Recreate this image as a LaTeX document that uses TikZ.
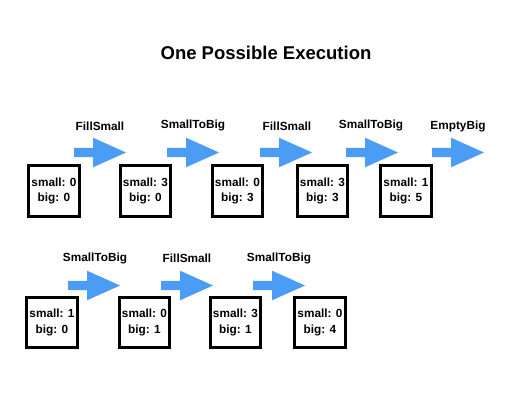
\documentclass[tikz,border=0pt]{standalone}
\usepackage{fontspec}
\setmainfont{Liberation Sans}
\definecolor{arrowblue}{RGB}{74,156,245}
\tikzset{
  state/.style={draw=black, line width=3.2pt, minimum size=50.5pt, inner sep=0pt, align=center,
    font=\bfseries\fontsize{11.8}{15.5}\selectfont},
  act/.style={font=\bfseries\fontsize{11.8}{14}\selectfont, inner sep=0pt},
  bigarr/.pic={\fill[arrowblue] (0,-4.6) -- (19,-4.6) -- (19,-14.8) -- (52,0) -- (19,14.8) -- (19,4.6) -- (0,4.6) -- cycle;}
}
\begin{document}
\begin{tikzpicture}[x=1pt,y=-1pt]
\useasboundingbox (0,0) rectangle (532,400);
\node[font=\bfseries\fontsize{18.5}{22}\selectfont] (title) at (266,53) {One Possible Execution};
% top row
\node[state] (s1) at (54,191) {small: 0\\big: 0};
\node[state] (s2) at (145.5,191) {small: 3\\big: 0};
\node[state] (s3) at (237.5,191) {small: 0\\big: 3};
\node[state] (s4) at (322.5,191) {small: 3\\big: 3};
\node[state] (s5) at (406,191) {small: 1\\big: 5};
\pic at (74,152.5) {bigarr};
\pic at (167,152.5) {bigarr};
\pic at (260,152.5) {bigarr};
\pic at (346,152.5) {bigarr};
\pic at (432,152.5) {bigarr};
\node[act] (a1) at (100,126) {FillSmall};
\node[act] (a2) at (193,125) {SmallToBig};
\node[act] (a3) at (287,126) {FillSmall};
\node[act] (a4) at (371,125) {SmallToBig};
\node[act] (a5) at (458,126) {EmptyBig};
% bottom row
\node[state] (t1) at (52,322.5) {small: 1\\big: 0};
\node[state] (t2) at (144.5,322.5) {small: 0\\big: 1};
\node[state] (t3) at (235.5,322.5) {small: 3\\big: 1};
\node[state] (t4) at (320,322.5) {small: 0\\big: 4};
\pic at (68,285.5) {bigarr};
\pic at (161,285.5) {bigarr};
\pic at (253,285.5) {bigarr};
\node[act] (b1) at (95,258) {SmallToBig};
\node[act] (b2) at (187,258) {FillSmall};
\node[act] (b3) at (279,258) {SmallToBig};
\end{tikzpicture}
\end{document}
